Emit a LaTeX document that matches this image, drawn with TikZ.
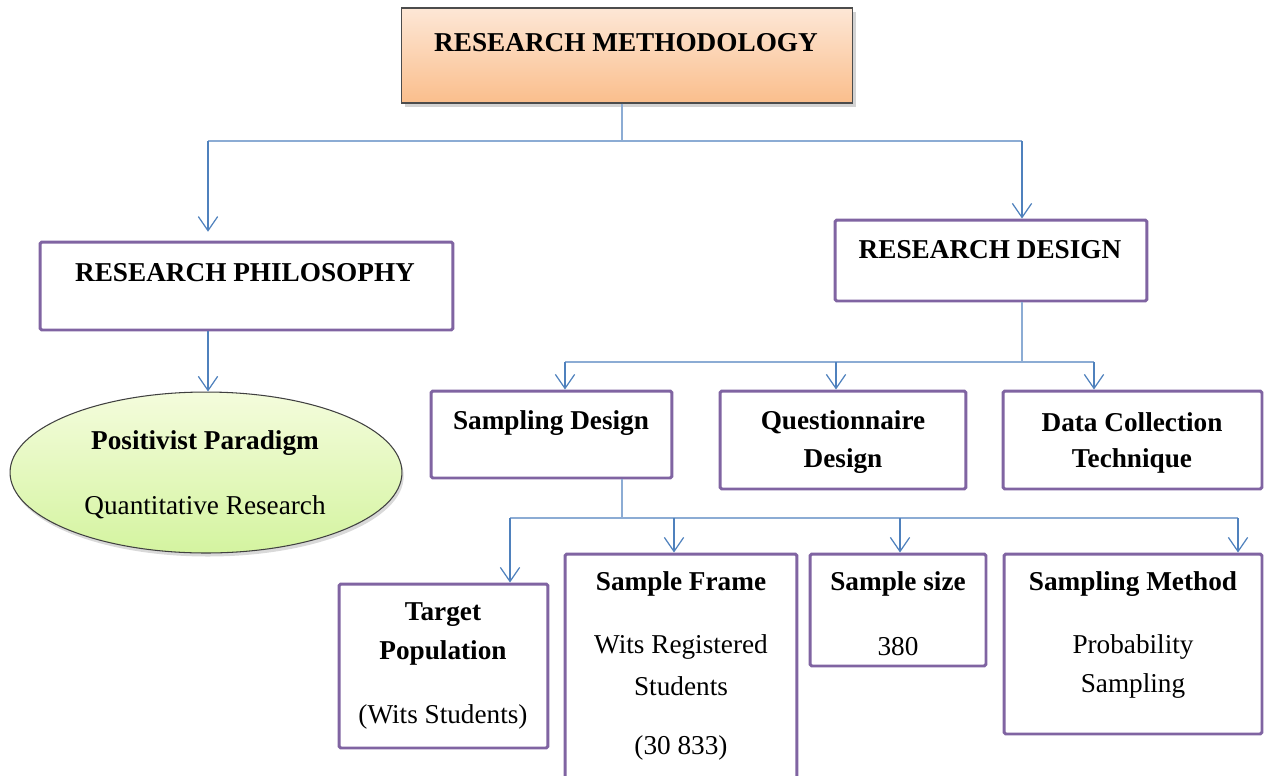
\documentclass[tikz,border=0pt]{standalone}
\usepackage{fontspec}
\setmainfont{Liberation Serif}
\usetikzlibrary{arrows.meta,shadows,shapes.geometric}
\definecolor{boxpurple}{RGB}{128,100,162}
\definecolor{linkblue}{RGB}{79,129,189}
\definecolor{buslight}{RGB}{140,172,212}
\definecolor{orangetop}{RGB}{253,231,214}
\definecolor{orangebot}{RGB}{250,190,140}
\definecolor{greentop}{RGB}{244,252,220}
\definecolor{greenbot}{RGB}{212,244,160}
\tikzset{
  box/.style={draw=boxpurple, line width=1.7pt, fill=white, rounded corners=1pt, inner sep=0pt},
  link/.style={draw=linkblue, line width=0.7pt, -{Straight Barb[length=8pt,width=11pt]}},
  bus/.style={draw=buslight, line width=0.7pt},
  head/.style={font=\fontsize{15.5}{18}\selectfont\bfseries},
  body/.style={font=\fontsize{15.5}{18}\selectfont},
}
\begin{document}
\begin{tikzpicture}[x=0.02cm, y=-0.02cm]
  \useasboundingbox (0,0) rectangle (1267,775);
  \clip (0,0) rectangle (1267,775);

  % Nodes
  \node[draw=black!70, line width=0.6pt, top color=orangetop, bottom color=orangebot,
        drop shadow={shadow xshift=2pt, shadow yshift=-2pt, opacity=0.35},
        minimum width=9.04cm, minimum height=1.9cm, inner sep=0pt] (RM) at (627,55.5) {};
  \node[box, minimum width=8.26cm, minimum height=1.76cm] (RP) at (246.5,286) {};
  \node[box, minimum width=6.24cm, minimum height=1.62cm] (RD) at (991,260.5) {};
  \node[ellipse, draw=black!75, line width=0.6pt, top color=greentop, bottom color=greenbot,
        drop shadow={shadow xshift=1pt, shadow yshift=-2pt, opacity=0.3},
        minimum width=7.84cm, minimum height=3.22cm, inner sep=0pt] (PP) at (206,472.5) {};
  \node[box, minimum width=4.82cm, minimum height=1.74cm] (SD) at (551.5,434.5) {};
  \node[box, minimum width=4.92cm, minimum height=1.96cm] (QD) at (843,440) {};
  \node[box, minimum width=5.18cm, minimum height=1.96cm] (DC) at (1132.5,440) {};
  \node[box, minimum width=4.18cm, minimum height=3.28cm] (TP) at (443.5,666) {};
  \node[box, minimum width=4.64cm, minimum height=4.72cm] (SF) at (681,672) {};
  \node[box, minimum width=3.52cm, minimum height=2.24cm] (SS) at (898,610) {};
  \node[box, minimum width=5.16cm, minimum height=3.6cm] (SM) at (1133,644) {};

  % Texts
  \node[head] (RMt) at (626,43) {RESEARCH METHODOLOGY};
  \node[head] (RPt) at (245,273) {RESEARCH PHILOSOPHY};
  \node[head] (RDt) at (990,250) {RESEARCH DESIGN};
  \node[head] (PPa) at (205,443) {Positivist Paradigm};
  \node[body] (PPb) at (205,507) {Quantitative Research};
  \node[head] (SDt) at (551,423) {Sampling Design};
  \node[head] (QDa) at (843,422) {Questionnaire};
  \node[head] (QDb) at (843,461) {Design};
  \node[head] (DCa) at (1132,422) {Data Collection};
  \node[head] (DCb) at (1132,461) {Technique};
  \node[head] (TPa) at (443,615) {Target};
  \node[head] (TPb) at (443,653) {Population};
  \node[body] (TPc) at (443,717) {(Wits Students)};
  \node[head] (SFa) at (681,584) {Sample Frame};
  \node[body] (SFb) at (681,647) {Wits Registered};
  \node[body] (SFc) at (681,686) {Students};
  \node[body] (SFd) at (681,748) {(30 833)};
  \node[head] (SSa) at (898,584) {Sample size};
  \node[body] (SSb) at (898,647) {380};
  \node[head] (SMa) at (1133,584) {Sampling Method};
  \node[body] (SMb) at (1133,647) {Probability};
  \node[body] (SMc) at (1133,686) {Sampling};

  % Edges
  \draw[bus] (622,0 |- RM.south) -- (622,141);
  \draw[bus] (208,141) -- (1022,141);
  \draw[link] (208,141) -- ([yshift=5pt]208,141 |- RP.north);
  \draw[link] (1022,141) -- (1022,141 |- RD.north);
  \draw[link] (208,0 |- RP.south) -- (208,0 |- PP.north);

  \draw[bus] (1022,0 |- RD.south) -- (1022,362);
  \draw[bus] (565,362) -- (1094,362);
  \draw[link] (565,362) -- (565,0 |- SD.north);
  \draw[link] (836,362) -- (836,0 |- QD.north);
  \draw[link] (1094,362) -- (1094,0 |- DC.north);

  \draw[bus] (622,0 |- SD.south) -- (622,518);
  \draw[bus] (510,518) -- (1238,518);
  \draw[link] (510,518) -- (510,0 |- TP.north);
  \draw[link] (674,518) -- (674,0 |- SF.north);
  \draw[link] (900,518) -- (900,0 |- SS.north);
  \draw[link] (1238,518) -- (1238,0 |- SM.north);
\end{tikzpicture}
\end{document}
